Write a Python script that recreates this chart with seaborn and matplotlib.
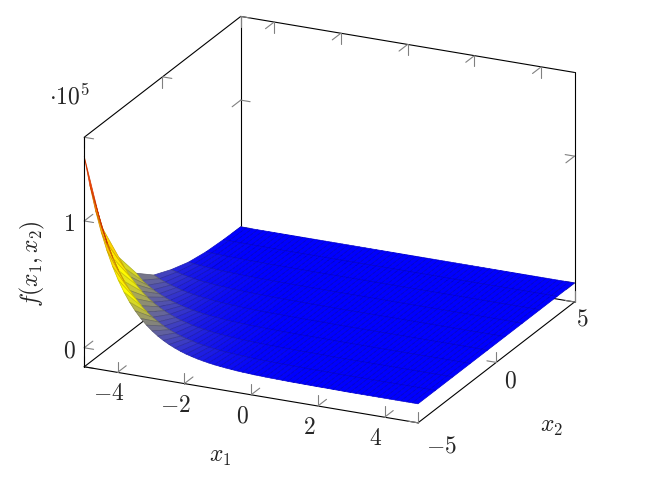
import numpy as np
import matplotlib
matplotlib.use('Agg')
import matplotlib.pyplot as plt
import seaborn as sns
from mpl_toolkits.mplot3d import proj3d

# f(x1,x2) in units of 1e5, one row per x2 sample
# rows stop where the surface has gone flat, the rest is padded with 0
z_rows = [
    [1.51, 1.287, 1.097, .935, .798, .680, .580, .494, .421, .359, .306, .261, .223, .190, .162, .138, .118, .100, .085, .073,
     .062, .053, .045, .038, .033, .028, .024, .020, .017, .015, .012, .011, .009, .008, .007, .006, .005, .004, .004, .003,
     .003, .002, .002, .002, .001, .001],
    [.85, .724, .617, .526, .449, .383, .326, .278, .237, .202, .173, .147, .126, .107, .091, .078, .067, .056, .048, .041,
     .035, .030, .025, .022, .019, .016, .013, .011, .009, .008, .007, .006, .005, .005, .004, .004, .003, .002, .002, .002,
     .002, .001],
    [.50, .425, .363, .310, .264, .225, .192, .164, .140, .119, .101, .086, .074, .062, .053, .046, .039, .033, .028, .024,
     .020, .017, .015, .013, .011, .009, .008, .006, .006, .005, .004, .004, .003, .003, .003, .002, .002, .001],
    [.27, .222, .190, .162, .138, .118, .100, .086, .073, .062, .053, .045, .038, .033, .028, .024, .020, .018, .014, .013,
     .010, .009, .008, .006, .006, .005, .004, .003, .003, .002, .002, .002, .002, .002, .002, .001],
    [.15, .128, .109, .093, .080, .067, .057, .049, .042, .036, .031, .026, .022, .019, .016, .014, .011, .010, .008, .007,
     .006, .005, .005, .004, .003, .003, .002, .002, .002, .002, .002, .001],
    [.087, .074, .063, .054, .046, .039, .033, .029, .024, .021, .018, .015, .013, .011, .010, .008, .007, .006, .005, .004,
     .004, .003, .003, .002, .002, .001, .001, .001, .001],
    [.040, .034, .029, .025, .021, .018, .015, .013, .011, .010, .008, .007, .006, .005, .005, .003, .003, .003, .002, .002,
     .002, .001, .001, .001, .001, .001],
    [.015, .013, .011, .009, .008, .007, .006, .005, .004, .004, .003, .002, .002, .002, .002, .001, .001, .001, .001],
    [.005, .004, .004, .003, .003, .002, .002, .002, .001, .001],
    [.001],
]
x1_ticks = [-4, -2, 0, 2, 4]
x2_ticks = [-5, 0, 5]
z_ticks = [0, 1]
x1_min, x1_max = -5, 5
x2_min, x2_max = -5, 5
z_min, z_max = -0.15, 1.66

sns.set_style('white')
plt.rcParams['mathtext.fontset'] = 'cm'
hot = sns.blend_palette(['#0000ff', '#ffff00', '#ffa500', '#ff0000'], as_cmap=True)

n_x1 = 60
Z = np.array([r + [0.0] * (n_x1 - len(r)) for r in z_rows])
x1 = np.linspace(x1_min, x1_max, n_x1)
x2 = np.linspace(x2_min, x2_max, len(z_rows))
X1, X2 = np.meshgrid(x1, x2)

fig = plt.figure(figsize=(6.62, 4.96), dpi=100)
ax = fig.add_axes([11 / 662, -42 / 496, 620 / 662, 620 / 496], projection='3d', proj_type='ortho', computed_zorder=False)
ax.set_xlim(x1_min, x1_max)
ax.set_ylim(x2_min, x2_max)
ax.set_zlim(z_min, z_max)
ax.view_init(elev=21.1, azim=-65)
ax.set_box_aspect((367.5, 369.6, 245.5), zoom=0.904)
ax.set_axis_off()

# surface, cell colour halfway between its highest corner and its mean, opaque darker mesh lines
cell = Z.copy()
cell[:-1, :-1] = 0.5 * Z[:-1, :-1] + 0.125 * (Z[:-1, :-1] + Z[1:, :-1] + Z[:-1, 1:] + Z[1:, 1:])
cols = hot(cell / Z.max())
surf = ax.plot_surface(X1, X2, Z, facecolors=cols, rstride=1, cstride=1, shade=False, linewidth=0.5, zorder=2)
mesh = cols[:-1, :-1].reshape(-1, 4).copy()
mesh[:, :3] *= 0.8
surf.set_edgecolor(mesh)

# box, back lines first so the surface hides them
def edge(a, b, zo):
    ax.plot([a[0], b[0]], [a[1], b[1]], [a[2], b[2]], color='black', lw=0.8, zorder=zo)

edge((x1_min, x2_max, z_min), (x1_min, x2_max, z_max), 1)
edge((x1_min, x2_min, z_min), (x1_min, x2_max, z_min), 1)
edge((x1_min, x2_max, z_min), (x1_max, x2_max, z_min), 1)
edge((x1_max, x2_max, z_min), (x1_max, x2_max, z_max), 1)
edge((x1_min, x2_max, z_max), (x1_max, x2_max, z_max), 1)
edge((x1_min, x2_min, z_max), (x1_min, x2_max, z_max), 1)
edge((x1_min, x2_min, z_min), (x1_min, x2_min, z_max), 3)
edge((x1_min, x2_min, z_min), (x1_max, x2_min, z_min), 3)
edge((x1_max, x2_min, z_min), (x1_max, x2_max, z_min), 3)

# every tick has two little prongs, pointing into the box
len_x1, len_x2, len_z = 0.28, 0.55, 0.085

def tick(p, d1, d2, zo):
    for d in (d1, d2):
        ax.plot([p[0], p[0] + d[0]], [p[1], p[1] + d[1]], [p[2], p[2] + d[2]], color='0.5', lw=0.8, zorder=zo)

for v in x1_ticks:
    tick((v, x2_min, z_min), (0, 0, len_z), (0, len_x2, 0), 3)
    tick((v, x2_max, z_min), (0, 0, len_z), (0, -len_x2, 0), 1)
    tick((v, x2_max, z_max), (0, 0, -len_z), (0, -len_x2, 0), 1)
for v in x2_ticks:
    tick((x1_max, v, z_min), (0, 0, len_z), (-len_x1, 0, 0), 3)
    tick((x1_min, v, z_min), (0, 0, len_z), (len_x1, 0, 0), 1)
    tick((x1_min, v, z_max), (0, 0, -len_z), (len_x1, 0, 0), 1)
for v in z_ticks:
    tick((x1_min, x2_min, v), (len_x1, 0, 0), (0, len_x2, 0), 1)
    tick((x1_min, x2_max, v), (len_x1, 0, 0), (0, -len_x2, 0), 1)
    tick((x1_max, x2_max, v), (-len_x1, 0, 0), (0, -len_x2, 0), 1)

# labels sit a fixed number of pixels away from their tick
def label(p, s, dx, dy):
    xp, yp, _ = proj3d.proj_transform(p[0], p[1], p[2], ax.get_proj())
    ax.annotate(s, (xp, yp), xytext=(dx * 0.72, -dy * 0.72), textcoords='offset points',
                ha='center', va='center', fontsize=17, annotation_clip=False)

for v in x1_ticks:
    label((v, x2_min, z_min), f'${v}$', -9, 21)
for v, dx, dy in zip(x2_ticks, [23, 14, 8], [23, 18, 17]):
    label((x1_max, v, z_min), f'${v}$', dx, dy)
for v in z_ticks:
    label((x1_min, x2_min, v), f'${v}$', -15, 3)

fig.text(69 / 662, 1 - 97 / 496, r'$\cdot 10^5$', fontsize=17, ha='center', va='center')
fig.text(220 / 662, 1 - 456 / 496, r'$x_1$', fontsize=17, ha='center', va='center', color='#222222')
fig.text(551 / 662, 1 - 426 / 496, r'$x_2$', fontsize=17, ha='center', va='center', color='#222222')
fig.text(32 / 662, 1 - 264 / 496, r'$f(x_1, x_2)$', fontsize=17, ha='center', va='center', rotation=90, color='#222222')

fig.savefig('out.png', dpi=100)
